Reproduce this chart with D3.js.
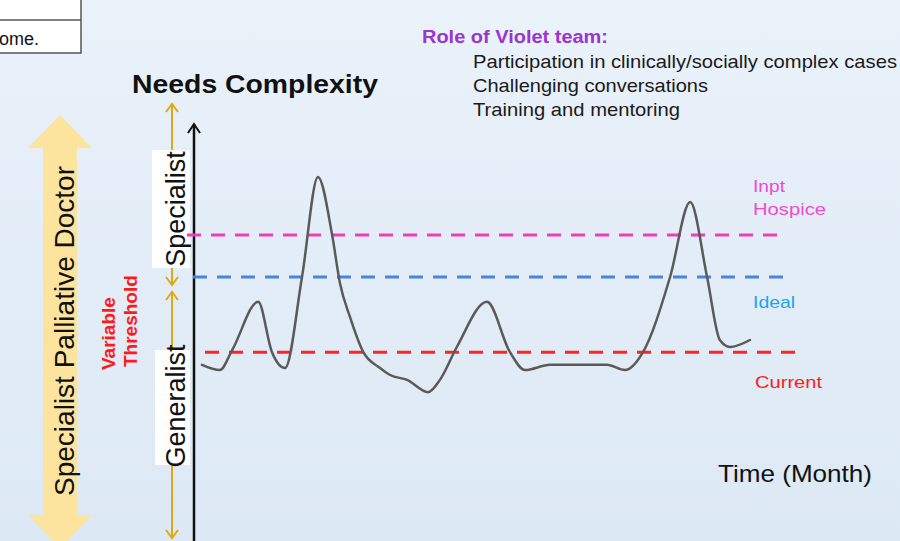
<!DOCTYPE html>
<html>
<head>
<meta charset="utf-8">
<script src="https://cdn.jsdelivr.net/npm/d3@7"></script>
<style>
  html, body { margin: 0; padding: 0; overflow: hidden; }
  svg { display: block; font-family: "Liberation Sans", Arial, sans-serif; }
</style>
</head>
<body>
<svg id="chart" width="900" height="541"></svg>
<script>
// Needs complexity over time (months)
const months = [0, 0.39, 0.66, 1.23, 1.53, 1.82, 2.19, 2.54, 2.85, 3.02, 3.24, 3.53, 3.9, 4.12, 4.49,
  4.95, 5.21, 5.58, 6.24, 6.74, 7.07, 7.62, 8.87, 9.26, 9.66, 10.25, 10.69, 11.06, 11.34, 11.56, 12]
const complexity = [3.29, 3.14, 3.71, 5.09, 3.66, 3.2, 5.8, 8.66, 7.0, 5.63, 4.66, 3.66, 3.2, 3.0, 2.86,
  2.51, 2.86, 3.8, 5.09, 3.66, 3.14, 3.29, 3.29, 3.14, 3.66, 5.8, 7.94, 5.8, 4.0, 3.8, 4.0]

// Threshold levels
const thresholdNames = ["Inpt Hospice", "Ideal", "Current"]
const thresholdValues = [7.0, 5.8, 3.65]

// Text of the slide
const roleTitle = "Role of Violet team:"
const roleItems = [
  "Participation in clinically/socially complex cases",
  "Challenging conversations",
  "Training and mentoring"
]

const svg = d3.select("#chart")
const W = 900, H = 541

// Background gradient
const defs = svg.append("defs")
const grad = defs.append("linearGradient")
  .attr("id", "bg").attr("x1", 0).attr("y1", 0).attr("x2", 0).attr("y2", 1)
grad.append("stop").attr("offset", "0%").attr("stop-color", "#eaf2fa")
grad.append("stop").attr("offset", "100%").attr("stop-color", "#dce8f4")
svg.append("rect").attr("width", W).attr("height", H).attr("fill", "url(#bg)")

// helper: fix a text's rendered width
const fit = (sel, w) => sel.attr("textLength", w).attr("lengthAdjust", "spacingAndGlyphs")

// Table fragment at top-left
const table = svg.append("g").attr("class", "table")
table.append("rect").attr("x", -2).attr("y", -2).attr("width", 83).attr("height", 55)
  .attr("fill", "#ffffff").attr("stroke", "#555").attr("stroke-width", 1.5)
table.append("line").attr("x1", -2).attr("x2", 81).attr("y1", 20).attr("y2", 20)
  .attr("stroke", "#555").attr("stroke-width", 1.5)
table.append("text").attr("x", -1).attr("y", 45)
  .attr("font-size", "18px").attr("fill", "#111").text("ome.")

// Scales
const x = d3.scaleLinear().domain([0, 12]).range([202, 750])
const y = d3.scaleLinear().domain([0, 10]).range([480, 130])

// Big double arrow on the left
const arrow = d3.path()
arrow.moveTo(60, 115)
arrow.lineTo(92, 148); arrow.lineTo(77, 148); arrow.lineTo(77, 515); arrow.lineTo(92, 515)
arrow.lineTo(60, 548)
arrow.lineTo(28, 515); arrow.lineTo(43, 515); arrow.lineTo(43, 148); arrow.lineTo(28, 148)
arrow.closePath()
svg.append("path").attr("d", arrow.toString()).attr("fill", "#fde49e")

svg.append("text")
  .attr("transform", "translate(74, 331) rotate(-90)")
  .attr("text-anchor", "middle")
  .attr("font-size", "28px")
  .attr("fill", "#111")
  .text("Specialist Palliative Doctor")

// Variable threshold label
const vt = svg.append("g").attr("fill", "#ff1a1a").attr("font-weight", "bold").attr("font-size", "19px")
vt.append("text").attr("transform", "translate(115, 370) rotate(-90)").text("Variable")
vt.append("text").attr("transform", "translate(137, 367) rotate(-90)").text("Threshold")

// Gold scale arrow (specialist / generalist)
const gold = "#dcaa14"
const scaleG = svg.append("g").attr("stroke", gold).attr("stroke-width", 2).attr("fill", "none")
const chevron = (cx, tip, dir) => `M${cx - 6},${tip - dir * 8}L${cx},${tip}L${cx + 6},${tip - dir * 8}`
scaleG.append("line").attr("x1", 172).attr("x2", 172).attr("y1", 104).attr("y2", 285)
scaleG.append("line").attr("x1", 172).attr("x2", 172).attr("y1", 292).attr("y2", 538)
scaleG.append("path").attr("d", chevron(172, 104, -1))
scaleG.append("path").attr("d", chevron(172, 285, 1))
scaleG.append("path").attr("d", chevron(172, 292, -1))
scaleG.append("path").attr("d", chevron(172, 538, 1))

svg.append("rect").attr("x", 152).attr("y", 150).attr("width", 38).attr("height", 118).attr("fill", "#fff")
svg.append("rect").attr("x", 155).attr("y", 350).attr("width", 35).attr("height", 115).attr("fill", "#fff")
svg.append("text")
  .attr("transform", "translate(185, 209) rotate(-90)")
  .attr("text-anchor", "middle").attr("font-size", "27px").attr("fill", "#111")
  .text("Specialist")
svg.append("text")
  .attr("transform", "translate(185, 406) rotate(-90)")
  .attr("text-anchor", "middle").attr("font-size", "27px").attr("fill", "#111")
  .text("Generalist")

// Y axis with open arrow head
svg.append("line").attr("x1", 194).attr("x2", 194).attr("y1", 124).attr("y2", H)
  .attr("stroke", "#111").attr("stroke-width", 2.5)
svg.append("path").attr("d", "M188,133L194,124L200,133")
  .attr("stroke", "#111").attr("stroke-width", 2).attr("fill", "none")

// Title
fit(svg.append("text").attr("x", 132).attr("y", 93)
  .attr("font-size", "25px").attr("font-weight", "bold").attr("fill", "#111")
  .text("Needs Complexity"), 246)

// Threshold lines
const thresholdStyle = [
  { color: "#ee3dbd", x1: 187, x2: 782 },
  { color: "#4a82e2", x1: 193, x2: 788 },
  { color: "#ff2424", x1: 205, x2: 798 }
]
svg.append("g").attr("class", "thresholds")
  .selectAll("line")
  .data(thresholdValues)
  .enter()
  .append("line")
  .attr("x1", (d, i) => thresholdStyle[i].x1)
  .attr("x2", (d, i) => thresholdStyle[i].x2)
  .attr("y1", d => y(d))
  .attr("y2", d => y(d))
  .attr("stroke", (d, i) => thresholdStyle[i].color)
  .attr("stroke-width", 3)
  .attr("stroke-dasharray", "14,10")

// Needs curve
const points = months.map((m, i) => [m, complexity[i]])
const line = d3.line()
  .x(d => x(d[0]))
  .y(d => y(d[1]))
  .curve(d3.curveMonotoneX)
svg.append("path")
  .datum(points)
  .attr("d", line)
  .attr("fill", "none")
  .attr("stroke", "#5a5a5a")
  .attr("stroke-width", 2.5)
  .attr("stroke-linecap", "round")

// Threshold labels
const inpt = thresholdNames[0].split(" ")
fit(svg.append("text").attr("x", 753).attr("y", 192).attr("font-size", "17px")
  .attr("fill", "#f04ad2").text(inpt[0]), 32)
fit(svg.append("text").attr("x", 753).attr("y", 215).attr("font-size", "17px")
  .attr("fill", "#f04ad2").text(inpt[1]), 73)
fit(svg.append("text").attr("x", 753).attr("y", 308).attr("font-size", "17px")
  .attr("fill", "#1aa4f0").text(thresholdNames[1]), 42)
fit(svg.append("text").attr("x", 755).attr("y", 388).attr("font-size", "17px")
  .attr("fill", "#ff1a1a").text(thresholdNames[2]), 67)

// Role of Violet team
fit(svg.append("text").attr("x", 422).attr("y", 43)
  .attr("font-size", "18px").attr("font-weight", "bold").attr("fill", "#9b35d0")
  .text(roleTitle), 186)
const roleWidths = [424, 235, 207]
svg.append("g").selectAll("text")
  .data(roleItems)
  .enter()
  .append("text")
  .attr("x", 473)
  .attr("y", (d, i) => 68 + i * 24)
  .attr("font-size", "19px")
  .attr("fill", "#1a1a1a")
  .attr("textLength", (d, i) => roleWidths[i])
  .attr("lengthAdjust", "spacingAndGlyphs")
  .text(d => d)

// X axis title
fit(svg.append("text").attr("x", 718).attr("y", 482)
  .attr("font-size", "24px").attr("fill", "#111")
  .text("Time (Month)"), 154)
</script>
</body>
</html>
